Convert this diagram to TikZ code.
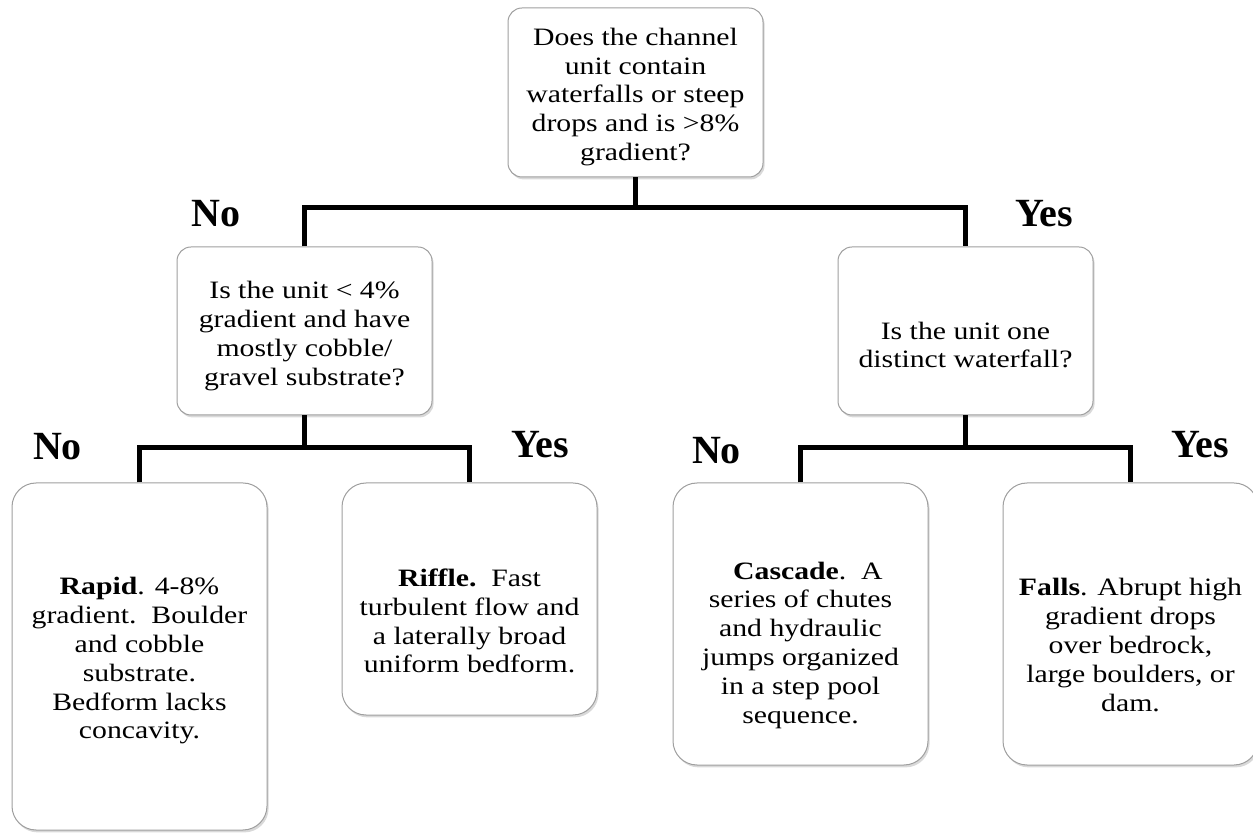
\documentclass[tikz,border=0pt]{standalone}
\usepackage{fontspec}
\setmainfont[FakeStretch=1.19]{Liberation Serif}
\newfontfamily\ansfont{Liberation Serif}
\usetikzlibrary{shadows}

\tikzset{
  qbox/.style={draw=gray!75, line width=0.5pt, fill=white, rounded corners=7pt,
    drop shadow={shadow xshift=0.8pt, shadow yshift=-1.2pt, opacity=0.3},
    minimum width=127.5pt, inner sep=0pt},
  abox/.style={qbox, rounded corners=12pt},
  txt/.style={align=center, inner sep=0pt, font=\fontsize{12.5}{14.4}\selectfont},
  ans/.style={inner sep=0pt, anchor=base, font=\ansfont\fontsize{20}{22}\selectfont\bfseries},
  conn/.style={line width=2.5pt, line join=miter}
}

\begin{document}
\begin{tikzpicture}[x=0.5pt,y=-0.5pt]
\useasboundingbox (0,0) rectangle (1253,833);

% question boxes
\node[qbox, minimum height=84.5pt] (q1) at (635.5,92.5) {};
\node[qbox, minimum height=84pt] (q2) at (304.5,331) {};
\node[qbox, minimum height=84pt] (q3) at (965.5,331) {};

% answer boxes
\node[abox, minimum height=173.5pt] (rapid) at (139.5,656.5) {};
\node[abox, minimum height=116pt] (riffle) at (469.5,599) {};
\node[abox, minimum height=141pt] (cascade) at (800.5,624) {};
\node[abox, minimum height=141pt] (falls) at (1130.5,624) {};

% texts
\node[txt] (q1txt) at (635.5,97) {Does the channel\\unit contain\\waterfalls or steep\\drops and is >8\%\\gradient?};
\node[txt] (q2txt) at (304.5,336) {Is the unit < 4\%\\gradient and have\\mostly cobble/\\gravel substrate?};
\node[txt] (q3txt) at (965.5,345) {Is the unit one\\distinct waterfall?};
\node[txt] (rapidtxt) at (139.5,661) {\textbf{Rapid}. 4-8\%\\gradient.\ \ Boulder\\and cobble\\substrate.\\Bedform lacks\\concavity.};
\node[txt] (riffletxt) at (469.5,621) {\textbf{Riffle.}\ \ Fast\\turbulent flow and\\a laterally broad\\uniform bedform.};
\node[txt] (cascadetxt) at (800.5,645) {\ \ \textbf{Cascade}.\ \ A\\series of chutes\\and hydraulic\\jumps organized\\in a step pool\\sequence.};
\node[txt] (fallstxt) at (1130.5,645) {\textbf{Falls}. Abrupt high\\gradient drops\\over bedrock,\\large boulders, or\\dam.};

% connectors
\coordinate (b1) at (635.5,208);
\coordinate (b2) at (304.5,448);
\coordinate (b3) at (965.5,448);
\draw[conn] (q1.south) -- (b1);
\draw[conn] (q2.north) |- (b1) -| (q3.north);
\draw[conn] (q2.south) -- (b2);
\draw[conn] (rapid.north) |- (b2) -| (riffle.north);
\draw[conn] (q3.south) -- (b3);
\draw[conn] (cascade.north) |- (b3) -| (falls.north);

% yes / no
\node[ans] (noA) at (216,227) {No};
\node[ans] (yesA) at (1044,227) {Yes};
\node[ans] (noB) at (57.5,460) {No};
\node[ans] (yesB) at (540,458) {Yes};
\node[ans] (noC) at (716.5,464) {No};
\node[ans] (yesC) at (1200,458) {Yes};
\end{tikzpicture}
\end{document}
